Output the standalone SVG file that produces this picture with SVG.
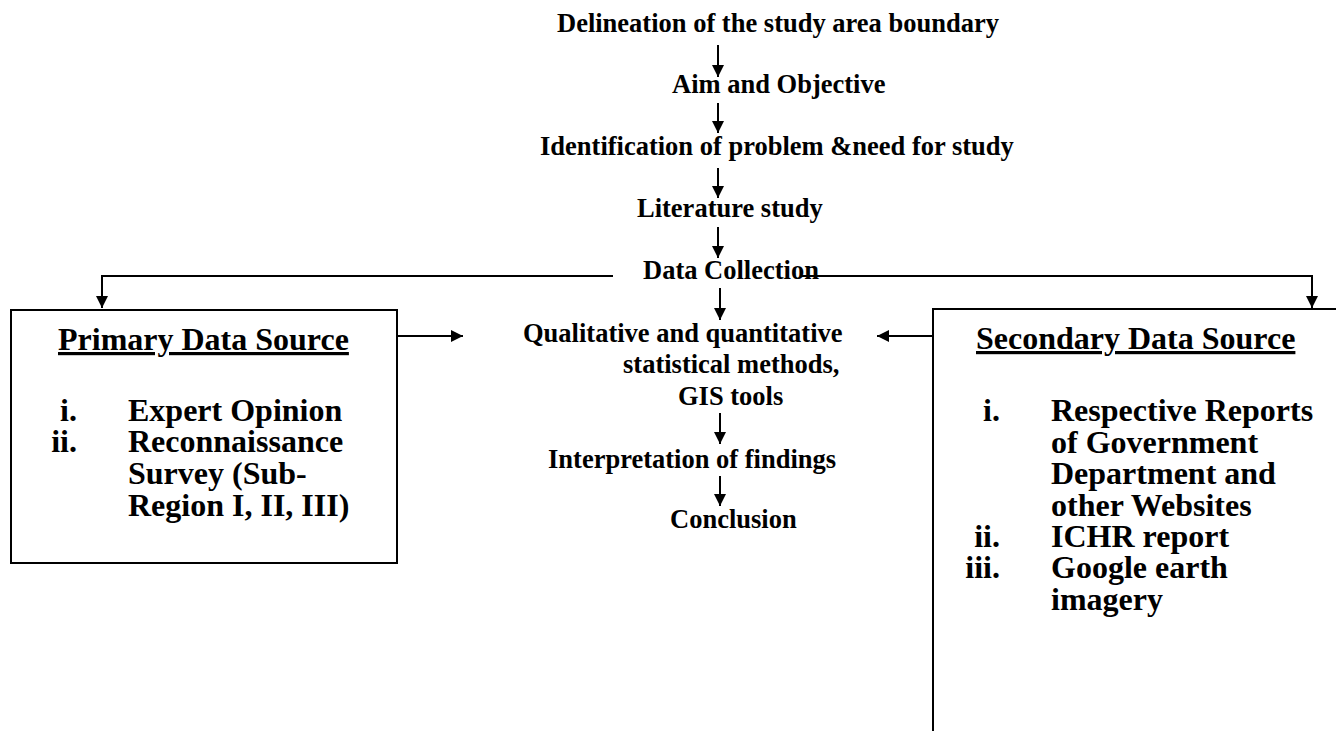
<svg xmlns="http://www.w3.org/2000/svg" width="1336" height="731" viewBox="0 0 1336 731">
<defs>
<marker id="ah" viewBox="0 0 12 12" refX="12" refY="6" markerWidth="12" markerHeight="12" markerUnits="userSpaceOnUse" orient="auto">
<path d="M0,0 L12,6 L0,12 Z" fill="#000"/>
</marker>
</defs>
<style>
text{font-family:"Liberation Serif","Times New Roman",serif;font-weight:bold;fill:#000}
.c{font-size:26.5px}
.b{font-size:32px}
.u{text-decoration:underline}
.e{text-anchor:end}
line,path.conn{stroke:#000;stroke-width:2;fill:none}
rect.box{fill:none;stroke:#000;stroke-width:2}
</style>
<rect width="1336" height="731" fill="#fff"/>
<g id="n-delineation"><text class="c" x="557" y="32">Delineation of the study area boundary</text></g>
<g id="n-aim"><text class="c" x="672" y="93">Aim and Objective</text></g>
<g id="n-identification"><text class="c" x="540" y="155">Identification of problem &amp;need for study</text></g>
<g id="n-literature"><text class="c" x="637" y="217">Literature study</text></g>
<g id="n-datacollection"><text class="c" x="643" y="279">Data Collection</text></g>
<g id="n-methods">
<text class="c" x="523" y="342">Qualitative and quantitative</text>
<text class="c" x="623" y="373">statistical methods,</text>
<text class="c" x="678" y="405">GIS tools</text>
</g>
<g id="n-interpretation"><text class="c" x="548" y="468">Interpretation of findings</text></g>
<g id="n-conclusion"><text class="c" x="670" y="528">Conclusion</text></g>
<g id="n-primary">
<rect class="box" x="11" y="310" width="386" height="253"/>
<text class="b u" x="58" y="350">Primary Data Source</text>
<text class="b e" x="77" y="421">i.</text>
<text class="b" x="128" y="421">Expert Opinion</text>
<text class="b e" x="77" y="452">ii.</text>
<text class="b" x="128" y="452">Reconnaissance</text>
<text class="b" x="128" y="484">Survey (Sub-</text>
<text class="b" x="128" y="516">Region I, II, III)</text>
</g>
<g id="n-secondary">
<rect class="box" x="933" y="309" width="500" height="500"/>
<text class="b u" x="976" y="349">Secondary Data Source</text>
<text class="b e" x="1000" y="421">i.</text>
<text class="b" x="1051" y="421">Respective Reports</text>
<text class="b" x="1051" y="453">of Government</text>
<text class="b" x="1051" y="484">Department and</text>
<text class="b" x="1051" y="516">other Websites</text>
<text class="b e" x="1000" y="547">ii.</text>
<text class="b" x="1051" y="547">ICHR report</text>
<text class="b e" x="1000" y="578">iii.</text>
<text class="b" x="1051" y="578">Google earth</text>
<text class="b" x="1051" y="610">imagery</text>
</g>
<g id="connectors">
<line x1="718" y1="45" x2="718" y2="77" marker-end="url(#ah)"/>
<line x1="718" y1="103" x2="718" y2="133" marker-end="url(#ah)"/>
<line x1="718" y1="168" x2="718" y2="198" marker-end="url(#ah)"/>
<line x1="718" y1="227" x2="718" y2="258" marker-end="url(#ah)"/>
<line x1="720" y1="288" x2="720" y2="320" marker-end="url(#ah)"/>
<line x1="720" y1="413" x2="720" y2="444" marker-end="url(#ah)"/>
<line x1="720" y1="476" x2="720" y2="506" marker-end="url(#ah)"/>
<path class="conn" d="M613,276 H102 V308" marker-end="url(#ah)"/>
<path class="conn" d="M800,276 H1312 V308" marker-end="url(#ah)"/>
<line x1="397" y1="336" x2="463" y2="336" marker-end="url(#ah)"/>
<line x1="933" y1="336" x2="877" y2="336" marker-end="url(#ah)"/>
</g>
</svg>
